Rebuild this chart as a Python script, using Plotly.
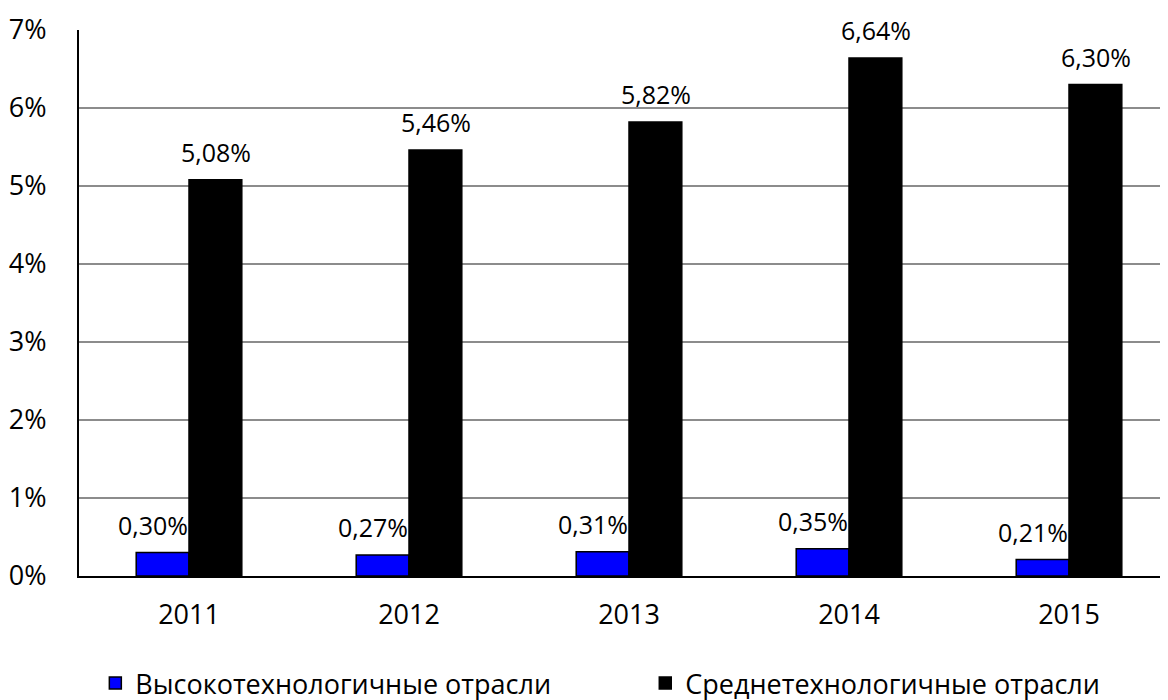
import plotly.graph_objects as go

years = ["2011", "2012", "2013", "2014", "2015"]
high_tech = [0.30, 0.27, 0.31, 0.35, 0.21]
mid_tech = [5.08, 5.46, 5.82, 6.64, 6.30]
series_names = ["Высокотехнологичные отрасли", "Среднетехнологичные отрасли"]
y_ticks = [0, 1, 2, 3, 4, 5, 6, 7]

FONT = "Open Sans"

def fmt(v):
    return f"{v:.2f}".replace(".", ",") + "%"

fig = go.Figure()
fig.add_trace(go.Bar(x=years, y=high_tech, name=series_names[0], legend="legend",
                     marker=dict(color="#0000FF", line=dict(color="black", width=1.5))))
fig.add_trace(go.Bar(x=years, y=mid_tech, name=series_names[1], legend="legend2",
                     marker=dict(color="black", line=dict(color="black", width=1.5))))

annotations = []
for i, v in enumerate(high_tech):
    annotations.append(dict(x=i, y=v, xref="x", yref="y", text=fmt(v), showarrow=False,
                            xshift=-36, yshift=9, yanchor="bottom",
                            font=dict(family=FONT, size=25, color="black")))
for i, v in enumerate(mid_tech):
    annotations.append(dict(x=i, y=v, xref="x", yref="y", text=fmt(v), showarrow=False,
                            xshift=27, yshift=9, yanchor="bottom",
                            font=dict(family=FONT, size=25, color="black")))

legend_style = dict(orientation="h", xanchor="left", y=-0.152, yanchor="top",
                    font=dict(family=FONT, size=27, color="black"),
                    bgcolor="rgba(0,0,0,0)")

fig.update_layout(
    width=1160, height=692,
    margin=dict(l=71, r=0, t=22, b=124, autoexpand=False),
    paper_bgcolor="white", plot_bgcolor="white",
    barmode="group", bargap=0.52, bargroupgap=0,
    font=dict(family=FONT, size=25, color="black"),
    annotations=annotations,
    showlegend=True,
    legend=dict(x=0.015, **legend_style),
    legend2=dict(x=0.52, **legend_style),
    xaxis=dict(type="category", range=[-0.5, 4.45], showline=True, linecolor="black",
               linewidth=2, showgrid=False, ticks="", ticklabelstandoff=14,
               tickfont=dict(family=FONT, size=27, color="black")),
    yaxis=dict(range=[0, 7], tickvals=y_ticks, ticktext=[f"{t}%" for t in y_ticks],
               showline=True, linecolor="black", linewidth=2,
               showgrid=True, gridcolor="#8c8c8c", gridwidth=2,
               zeroline=False, ticks="", ticklabelstandoff=25,
               tickfont=dict(family=FONT, size=27, color="black")),
)

fig.write_html("out.html")
